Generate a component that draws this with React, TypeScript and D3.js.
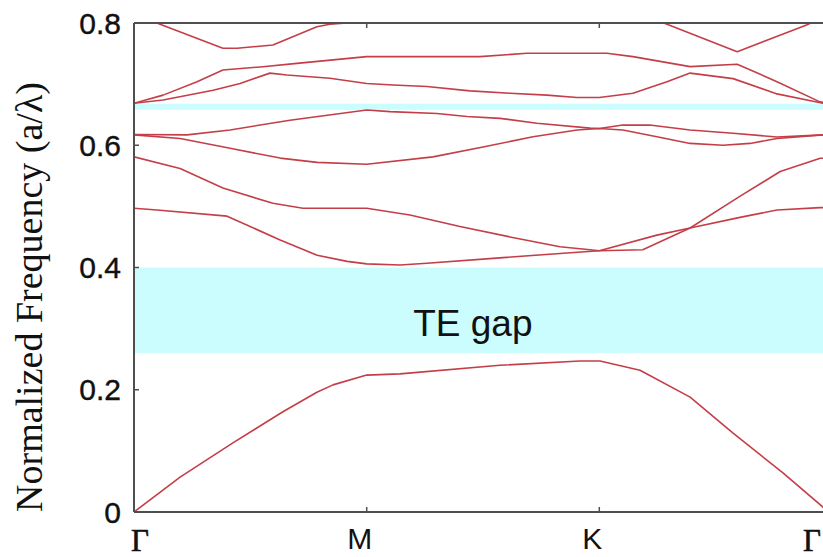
import React from "react";
import * as d3 from "d3";

// k-path: Γ=0, M=1, K=2, Γ=3
const kLabels = ["Γ", "M", "K", "Γ"];
const kPositions = [0, 1, 2, 3];
const yTicks = [0, 0.2, 0.4, 0.6, 0.8];

// photonic band gaps (normalized frequency)
const teGap = [0.26, 0.4];
const smallGap = [0.658, 0.668];

// bands as [k, frequency]
const band1: [number, number][] = [
  [0, 0], [0.198, 0.057], [0.425, 0.113], [0.64, 0.164], [0.786, 0.196], [0.855, 0.208],
  [1.0, 0.224], [1.143, 0.226], [1.573, 0.24], [1.917, 0.247], [2.003, 0.247],
  [2.178, 0.232], [2.397, 0.188], [2.585, 0.129], [2.803, 0.064], [2.978, 0.008], [3.0, 0],
];
const band2: [number, number][] = [
  [0, 0.497], [0.099, 0.494], [0.4, 0.484], [0.628, 0.445], [0.787, 0.42], [0.916, 0.41],
  [1.0, 0.406], [1.143, 0.404], [1.259, 0.407], [1.543, 0.415], [1.831, 0.423], [2.0, 0.4275],
  [2.19, 0.429], [2.397, 0.4647], [2.616, 0.5167], [2.791, 0.557], [2.966, 0.5787], [3.0, 0.579],
];
const band3: [number, number][] = [
  [0, 0.581], [0.198, 0.562], [0.382, 0.53], [0.597, 0.505], [0.726, 0.497], [1.0, 0.497],
  [1.186, 0.486], [1.401, 0.467], [1.616, 0.45], [1.831, 0.434], [1.96, 0.429], [2.0, 0.4275],
  [2.252, 0.453], [2.397, 0.4647], [2.615, 0.482], [2.777, 0.494], [2.965, 0.498], [3.0, 0.498],
];
const band4: [number, number][] = [
  [0, 0.617], [0.198, 0.611], [0.413, 0.595], [0.628, 0.579], [0.787, 0.572], [1.0, 0.569],
  [1.285, 0.581], [1.5, 0.597], [1.715, 0.614], [1.905, 0.625], [2.0, 0.6275],
  [2.103, 0.625], [2.252, 0.614], [2.397, 0.603], [2.541, 0.6], [2.659, 0.603], [2.777, 0.611],
  [2.978, 0.617], [3.0, 0.617],
];
const band5: [number, number][] = [
  [0, 0.6176], [0.228, 0.617], [0.413, 0.625], [0.67, 0.641], [1.0, 0.6577], [1.1, 0.655],
  [1.302, 0.652], [1.431, 0.647], [1.573, 0.644], [1.732, 0.636], [1.96, 0.628], [2.0, 0.6274],
  [2.103, 0.633], [2.22, 0.633], [2.397, 0.625], [2.585, 0.6196], [2.777, 0.6135],
  [2.978, 0.617], [3.0, 0.617],
];
const band6: [number, number][] = [
  [0, 0.6686], [0.125, 0.674], [0.34, 0.69], [0.456, 0.701], [0.584, 0.718], [0.657, 0.715],
  [0.842, 0.7095], [1.0, 0.701], [1.113, 0.6986], [1.259, 0.696], [1.444, 0.689],
  [1.616, 0.685], [1.775, 0.682], [1.904, 0.678], [2.0, 0.678], [2.147, 0.685], [2.296, 0.704],
  [2.397, 0.718], [2.585, 0.709], [2.777, 0.684], [2.978, 0.6686], [3.0, 0.6686],
];
const band7: [number, number][] = [
  [0, 0.6686], [0.125, 0.682], [0.271, 0.704], [0.382, 0.723], [0.554, 0.7285], [0.7, 0.734],
  [1.0, 0.745], [1.487, 0.745], [1.689, 0.7505], [2.033, 0.7505], [2.147, 0.745],
  [2.397, 0.7286], [2.603, 0.7325], [2.777, 0.704], [2.965, 0.671], [3.0, 0.6686],
];
const band8: [number, number][] = [
  [0, 0.815], [0.112, 0.798], [0.382, 0.7586], [0.443, 0.7586], [0.597, 0.764],
  [0.786, 0.794], [0.842, 0.798], [0.915, 0.8], [1.0, 0.81],
];
const band9: [number, number][] = [
  [2.2, 0.812], [2.296, 0.798], [2.603, 0.753], [2.909, 0.797], [3.0, 0.815],
];
const bands = [band1, band2, band3, band4, band5, band6, band7, band8, band9];

const W = 823;
const H = 557;
const left = 134;
const top = 23;
const bottom = 512;
const rightEdge = 823;

export default function App() {
  const x = d3.scaleLinear().domain(kPositions).range([134, 366.7, 599.3, 828]);
  const y = d3.scaleLinear().domain([0, 0.8]).range([bottom, top]);
  const line = d3
    .line<[number, number]>()
    .x((d) => x(d[0]))
    .y((d) => y(d[1]));

  const axisColor = "#4f4f4f";
  const bandColor = "#c43e48";
  const sans = "'Liberation Sans', Arial, Helvetica, sans-serif";
  const serif = "'Liberation Serif', 'Times New Roman', Times, serif";

  return (
    <svg
      width={W}
      height={H}
      style={{ position: "absolute", left: 0, top: 0, background: "#fff" }}
    >
      <defs>
        <clipPath id="plotClip">
          <rect x={left} y={top} width={rightEdge - left} height={bottom - top} />
        </clipPath>
      </defs>
      <rect x={0} y={0} width={W} height={H} fill="#fff" />

      {/* gaps */}
      <rect
        x={left}
        y={y(teGap[1])}
        width={rightEdge - left}
        height={y(teGap[0]) - y(teGap[1])}
        fill="#ccfdfe"
      />
      <rect
        x={left}
        y={y(smallGap[1])}
        width={rightEdge - left}
        height={y(smallGap[0]) - y(smallGap[1])}
        fill="#ccfdfe"
      />
      <text x={x(1.2)} y={336} fontFamily={sans} fontSize={37} fill="#111">
        TE gap
      </text>

      {/* bands */}
      <g clipPath="url(#plotClip)">
        {bands.map((b, i) => (
          <path
            key={i}
            d={line(b) || ""}
            fill="none"
            stroke={bandColor}
            strokeWidth={1.6}
            strokeLinejoin="round"
          />
        ))}
      </g>

      {/* frame */}
      <line x1={left} x2={rightEdge} y1={top} y2={top} stroke={axisColor} strokeWidth={2} />
      <line x1={left} x2={rightEdge} y1={bottom} y2={bottom} stroke={axisColor} strokeWidth={2} />
      <line x1={left} x2={left} y1={top} y2={bottom} stroke={axisColor} strokeWidth={2} />

      {/* y ticks */}
      {yTicks.map((t) => (
        <g key={t}>
          <line x1={left} x2={left + 5} y1={y(t)} y2={y(t)} stroke={axisColor} strokeWidth={1.5} />
          <text
            x={121}
            y={y(t) + 10.5}
            textAnchor="end"
            fontFamily={sans}
            fontSize={30}
            fill="#111"
            stroke="#111"
            strokeWidth={0.4}
          >
            {t === 0 ? "0" : t.toFixed(1)}
          </text>
        </g>
      ))}

      {/* x ticks */}
      {kPositions.slice(1, 3).map((k) => (
        <g key={k}>
          <line x1={x(k)} x2={x(k)} y1={bottom} y2={bottom - 5} stroke={axisColor} strokeWidth={1.5} />
          <line x1={x(k)} x2={x(k)} y1={top} y2={top + 5} stroke={axisColor} strokeWidth={1.5} />
        </g>
      ))}
      {kPositions.map((k, i) => {
        const isGamma = kLabels[i] === "Γ";
        let cx = x(k);
        if (i === 0) cx = x(k) + 6;
        else if (i === 3) cx = x(k) - 16;
        else cx = x(k) - 7;
        return (
          <text
            key={i}
            x={cx}
            y={isGamma ? 551 : 549}
            textAnchor="middle"
            fontFamily={isGamma ? serif : sans}
            fontSize={isGamma ? 31 : 30}
            fill="#111"
            stroke={isGamma ? "#111" : "none"}
            strokeWidth={isGamma ? 0.6 : 0}
          >
            {kLabels[i]}
          </text>
        );
      })}

      {/* y axis title */}
      <text
        transform="translate(42, 297) rotate(-90)"
        textAnchor="middle"
        fontFamily={serif}
        fontSize={38}
        fill="#111"
      >
        Normalized Frequency (a/λ)
      </text>
    </svg>
  );
}
